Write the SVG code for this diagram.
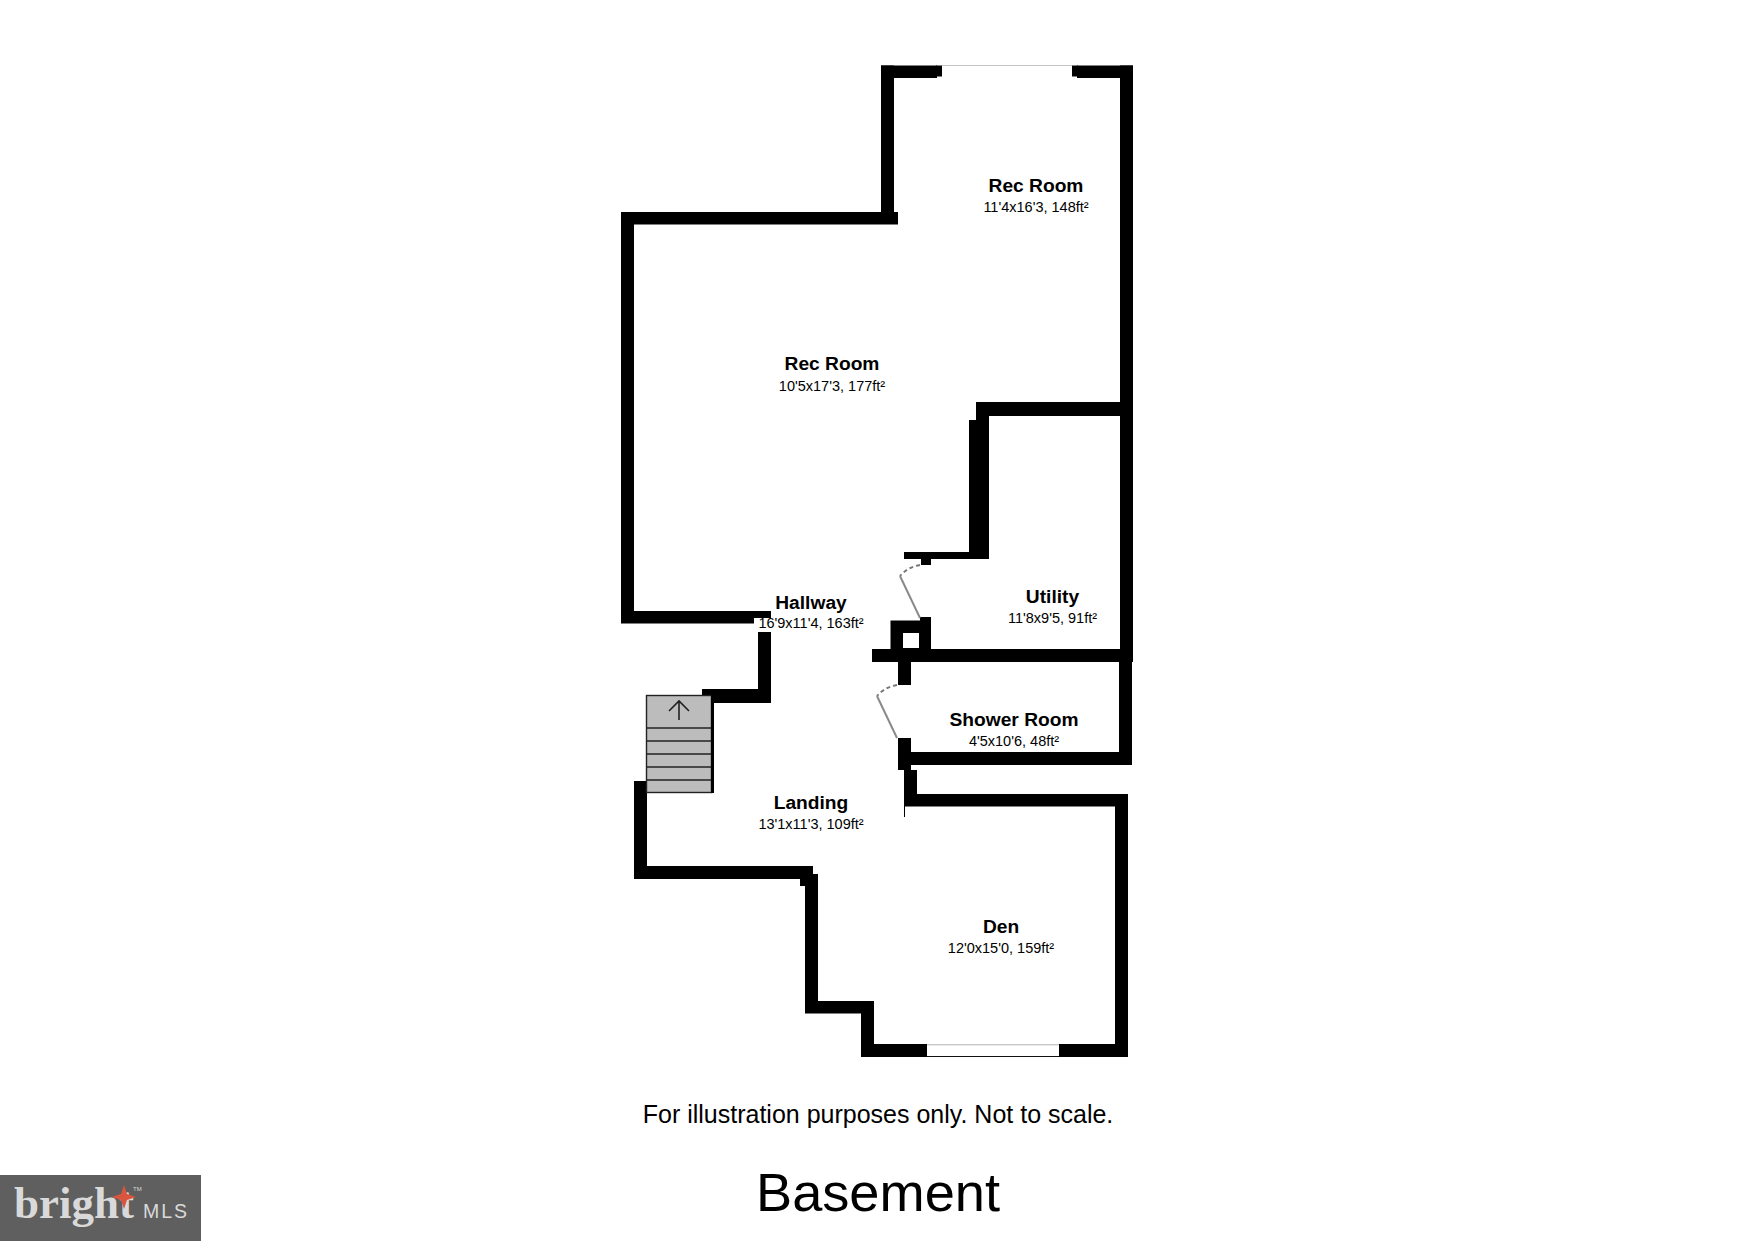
<svg xmlns="http://www.w3.org/2000/svg" width="1754" height="1241" viewBox="0 0 1754 1241">
<style>
text{font-family:"Liberation Sans",Arial,sans-serif;fill:#000;text-anchor:middle}
.n{font-size:19.2px;font-weight:700}
.d{font-size:14.5px}
.w{fill:#000}
.step{stroke:#222;stroke-width:1.6;fill:none}
.door{stroke:#8a8a8a;stroke-width:2;fill:none}
.arc{stroke:#777;stroke-width:2;fill:none;stroke-dasharray:4 3}
</style>
<rect width="1754" height="1241" fill="#fff"/>
<g id="walls" class="w">
<rect x="881" y="65.500" width="56" height="12.500"/>
<rect x="936" y="65.500" width="6" height="11"/>
<rect x="881" y="65.500" width="13" height="158.500"/>
<rect x="621" y="212" width="277" height="12.500"/>
<rect x="621" y="212" width="13" height="411"/>
<rect x="621" y="611" width="150" height="12.500"/>
<rect x="758" y="632" width="13" height="71"/>
<rect x="702" y="689" width="69" height="14"/>
<rect x="1077" y="65.500" width="56" height="12.500"/>
<rect x="1072" y="65.500" width="6" height="11"/>
<rect x="1120" y="65.500" width="13" height="596.500"/>
<rect x="1119" y="649" width="13" height="116"/>
<rect x="976" y="402" width="144" height="14"/>
<rect x="976" y="402" width="13" height="20"/>
<rect x="969" y="420" width="20" height="139"/>
<rect x="904" y="552" width="85" height="7"/>
<rect x="921" y="559" width="10" height="6"/>
<path d="M890.500 620.500H920V617H931V649H1120V662H872V649H890.500ZM903 633V648H919V633Z" fill-rule="evenodd"/>
<rect x="898" y="662" width="13" height="23"/>
<rect x="898" y="738" width="13" height="32"/>
<rect x="911" y="752" width="221" height="13"/>
<rect x="904" y="770" width="13" height="36"/>
<rect x="904" y="770" width="1" height="47"/>
<rect x="904" y="794" width="224" height="12.500"/>
<rect x="1115" y="794" width="13" height="263"/>
<rect x="861" y="1044" width="66" height="13"/>
<rect x="1059" y="1044" width="69" height="13"/>
<rect x="861" y="1001" width="13" height="56"/>
<rect x="805" y="1001" width="69" height="12.500"/>
<rect x="805" y="874" width="13" height="139"/>
<rect x="800" y="866" width="13" height="20"/>
<rect x="634" y="866" width="179" height="13"/>
<rect x="634" y="781" width="13" height="98"/>
</g>
<g id="windows">
<rect x="942" y="65" width="130" height="1" fill="#c4c4c4"/>
<rect x="927" y="1044" width="132" height="1.4" fill="#c8c8c8"/>
<rect x="927" y="1056" width="132" height="1" fill="#111"/>
</g>
<g id="doors">
<path class="arc" d="M920 565Q908 567 900 576"/>
<path class="door" d="M900 576L920 618"/>
<path class="arc" d="M897 685Q885 687 877 696"/>
<path class="door" d="M877 696L897 738"/>
</g>
<g id="stairs">
<rect x="646.500" y="695.500" width="65" height="97" fill="#bcbcbc" stroke="#222" stroke-width="1.4"/>
<rect x="711" y="695" width="3" height="98" fill="#000"/>
<path class="step" d="M647 728H711M647 741H711M647 754H711M647 767H711M647 780H711"/>
<path class="step" d="M679 720V701M669 711L679 701L689 711"/>
</g>
<g id="room-rec-room-1"><text class="n" x="1036" y="192">Rec Room</text><text class="d" x="1036" y="212">11'4x16'3, 148ft²</text></g>
<g id="room-rec-room-2"><text class="n" x="832" y="370">Rec Room</text><text class="d" x="832" y="391">10'5x17'3, 177ft²</text></g>
<g id="room-hallway"><text class="n" x="811" y="608.500">Hallway</text><rect x="754" y="618" width="18" height="14" fill="#fff"/><text class="d" x="811" y="628">16'9x11'4, 163ft²</text></g>
<g id="room-utility"><text class="n" x="1052.500" y="603">Utility</text><text class="d" x="1052.500" y="623">11'8x9'5, 91ft²</text></g>
<g id="room-shower"><text class="n" x="1014" y="726">Shower Room</text><text class="d" x="1014" y="746">4'5x10'6, 48ft²</text></g>
<g id="room-landing"><text class="n" x="811" y="809">Landing</text><text class="d" x="811" y="829">13'1x11'3, 109ft²</text></g>
<g id="room-den"><text class="n" x="1001" y="933">Den</text><text class="d" x="1001" y="953">12'0x15'0, 159ft²</text></g>
<text x="878" y="1123" font-size="25">For illustration purposes only. Not to scale.</text>
<text x="878" y="1211" font-size="54.200">Basement</text>
<g id="logo">
<rect x="0" y="1175" width="201" height="66" fill="#5f5f5f"/>
<text x="14" y="1218" font-size="44" font-weight="700" style="font-family:'Liberation Serif',serif;text-anchor:start;fill:#d9d9d9" textLength="120" lengthAdjust="spacingAndGlyphs">bright</text>
<text x="143" y="1218" font-size="19.500" style="text-anchor:start;fill:#d9d9d9" textLength="44">MLS</text>
<text x="133" y="1191" font-size="6" style="text-anchor:start;fill:#d9d9d9">TM</text>
<path d="M124 1185L127 1194L136 1197L127 1200L124 1209L121 1200L112 1197L121 1194Z" fill="#d9553f"/>
</g>
</svg>
